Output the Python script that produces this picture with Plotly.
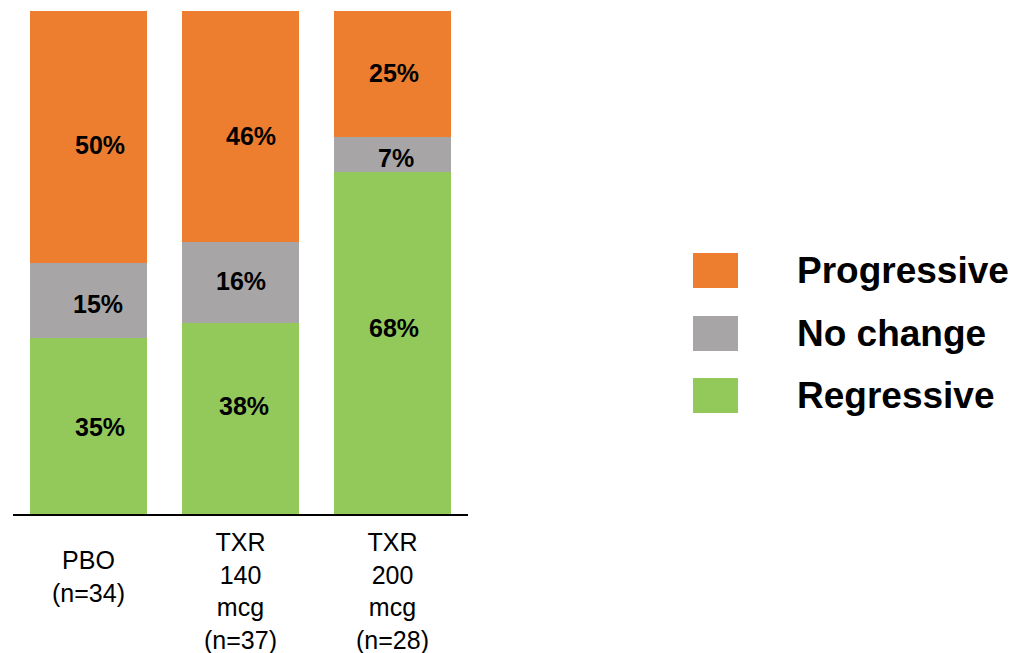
import plotly.graph_objects as go

# Category labels and percentage shares per outcome
categories = ["PBO", "TXR 140 mcg", "TXR 200 mcg"]
category_labels = ["PBO<br>(n=34)", "TXR<br>140<br>mcg<br>(n=37)", "TXR<br>200<br>mcg<br>(n=28)"]
series_names = ["Regressive", "No change", "Progressive"]
regressive = [35, 38, 68]
no_change = [15, 16, 7]
progressive = [50, 46, 25]
series_values = [regressive, no_change, progressive]
series_colors = ["#93C85B", "#A7A5A6", "#ED7E30"]

# Hand-placed nudges (px right, px down) for each value label, per series
label_nudges = [
    [(11, 1.5), (3.5, -12), (2, -14.5)],
    [(9.5, 3.5), (0, -2), (3.5, 4)],
    [(11, 8), (10, 9), (1.5, -1)],
]

FONT = "Arial, Liberation Sans, sans-serif"
W, H = 1012, 653
L, R, T, B = 13, 468, 11, 514  # plot area in pixels


def px_x(p):
    return (p - L) / (R - L)


def px_y(p):
    return (B - p) / (B - T)


fig = go.Figure()
base = [0] * len(categories)
for name, vals, col, nudges in zip(series_names, series_values, series_colors, label_nudges):
    fig.add_trace(go.Bar(
        x=categories, y=vals, name=name,
        marker=dict(color=col, line=dict(width=0)),
        showlegend=False, hoverinfo="x+y+name",
    ))
    # value labels centred on each segment, then nudged
    for i, (cat, v) in enumerate(zip(categories, vals)):
        dx, dy = nudges[i]
        fig.add_annotation(
            x=cat, y=base[i] + v / 2, xref="x", yref="y",
            text=f"<b>{v}%</b>", showarrow=False,
            xanchor="center", yanchor="middle", xshift=dx, yshift=-dy,
            font=dict(family=FONT, size=25, color="black"),
        )
        base[i] += v

# Category labels below the axis line
label_shift = [-18, 0, 0]
for cat, lab, extra in zip(categories, category_labels, label_shift):
    fig.add_annotation(
        x=cat, y=0, xref="x", yref="y", text=lab, showarrow=False,
        yanchor="top", xanchor="center", yshift=-12 + extra,
        font=dict(family=FONT, size=25, color="black"), align="center",
    )

# Legend: swatches and bold labels, top entry first
legend_rows = [(253, 288), (316, 351), (378, 413)]
for (y0, y1), name, col in zip(legend_rows, series_names[::-1], series_colors[::-1]):
    fig.add_shape(type="rect", xref="paper", yref="paper",
                  x0=px_x(693), x1=px_x(738), y0=px_y(y1), y1=px_y(y0),
                  fillcolor=col, line=dict(width=0))
    fig.add_annotation(x=px_x(795), y=px_y((y0 + y1) / 2), xref="paper", yref="paper",
                       text=f"<b>{name}</b>", showarrow=False,
                       xanchor="left", yanchor="middle",
                       font=dict(family=FONT, size=37, color="black"))

fig.update_layout(
    width=W, height=H,
    margin=dict(l=L, r=W - R, t=T, b=H - B, pad=0),
    barmode="stack", bargap=0.229,
    plot_bgcolor="white", paper_bgcolor="white",
    xaxis=dict(range=[-0.5, 2.5], showticklabels=False, ticks="",
               showline=True, linecolor="black", linewidth=2, showgrid=False,
               zeroline=False),
    yaxis=dict(range=[0, 100], visible=False, showgrid=False, zeroline=False),
)

fig.write_html("out.html")
